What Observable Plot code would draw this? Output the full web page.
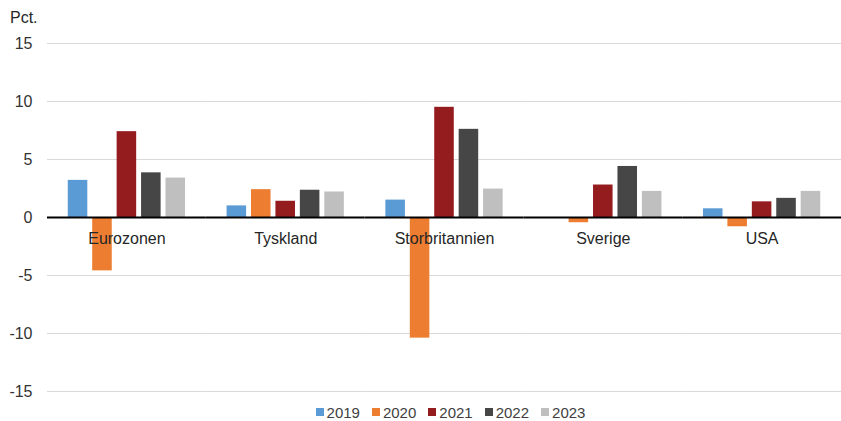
<!DOCTYPE html>
<html>
<head>
<meta charset="utf-8">
<script src="https://cdn.jsdelivr.net/npm/d3@7"></script>
<script src="https://cdn.jsdelivr.net/npm/@observablehq/plot@0.6"></script>
<style>
  html, body { margin: 0; padding: 0; background: #fff; }
  body { width: 841px; font-family: "Liberation Sans", Arial, sans-serif; }
  #legend { display: flex; justify-content: center; align-items: center; padding-left: 60px; height: 22px; margin-top: 1px; font-size: 15px; color: #404040; }
  #legend .item { display: flex; align-items: center; margin: 0 6px; }
  #legend .sw { width: 8px; height: 8px; margin-right: 3px; }
</style>
</head>
<body>
<div id="chart"></div>
<div id="legend"></div>
<script>
const countries = ["Eurozonen", "Tyskland", "Storbritannien", "Sverige", "USA"];
const years = ["2019", "2020", "2021", "2022", "2023"];
const colors = ["#5B9BD5", "#ED7D31", "#941C1F", "#464646", "#BFBFBF"];
// values per year, in the order of countries
const v2019 = [3.2, 1.0, 1.5, null, 0.75];
const v2020 = [-4.6, 2.4, -10.4, -0.45, -0.8];
const v2021 = [7.4, 1.4, 9.5, 2.8, 1.35];
const v2022 = [3.85, 2.35, 7.6, 4.4, 1.65];
const v2023 = [3.4, 2.2, 2.45, 2.25, 2.25];
const yTicks = [-15, -10, -5, 0, 5, 10, 15];

const series = [v2019, v2020, v2021, v2022, v2023];
const data = [];
countries.forEach((c, i) => {
  years.forEach((yr, j) => {
    const v = series[j][i];
    if (v != null) data.push({country: c, year: yr, value: v});
  });
});

const chart = Plot.plot({
  width: 841,
  height: 400,
  marginTop: 43,
  marginBottom: 9,
  marginLeft: 47,
  marginRight: 0,
  style: {fontFamily: "'Liberation Sans', Arial, sans-serif", fontSize: "16px", color: "#333"},
  fx: {domain: countries, padding: 0, round: false, axis: null},
  x: {domain: years, paddingInner: 0.2, paddingOuter: 0.85, round: false, axis: null},
  y: {domain: [-15, 15], ticks: yTicks, tickSize: 0, tickPadding: 15, label: null, tickFormat: d => d},
  color: {domain: years, range: colors},
  marks: [
    Plot.ruleY(yTicks.filter(d => d !== 0), {stroke: "#d9d9d9", strokeWidth: 1}),
    Plot.barY(data, {fx: "country", x: "year", y: "value", fill: "year"}),
    Plot.ruleY([0], {stroke: "#000", strokeWidth: 2}),
    Plot.text(countries, {fx: d => d, y: () => 0, text: d => d, lineAnchor: "top", dy: 15, fontSize: 16, fill: "#262626"})
  ]
});
document.getElementById("chart").appendChild(chart);

d3.select(chart).append("text")
  .attr("x", 10).attr("y", 23)
  .attr("text-anchor", "start")
  .attr("font-size", 16).attr("fill", "#262626")
  .text("Pct.");

const legend = d3.select("#legend");
years.forEach((yr, j) => {
  const it = legend.append("div").attr("class", "item");
  it.append("div").attr("class", "sw").style("background", colors[j]);
  it.append("span").text(yr);
});
</script>
</body>
</html>
